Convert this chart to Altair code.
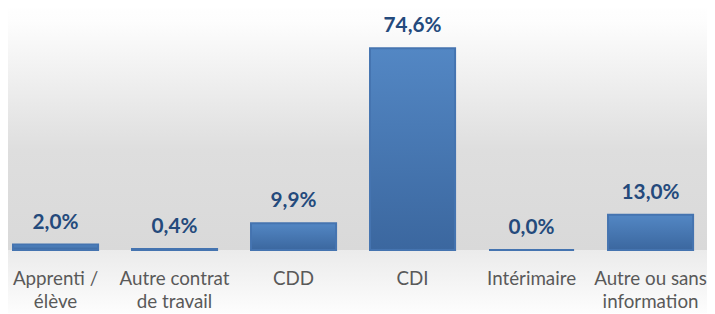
import altair as alt
import pandas as pd

categories = ["Apprenti / élève", "Autre contrat de travail", "CDD", "CDI",
              "Intérimaire", "Autre ou sans information"]
values = [2.0, 0.4, 9.9, 74.6, 0.0, 13.0]
label_lines = [["Apprenti /", "élève"], ["Autre contrat", "de travail"], ["CDD"],
               ["CDI"], ["Intérimaire"], ["Autre ou sans", "information"]]

df = pd.DataFrame({"cat": categories, "val": values})

W, H = 698, 243

# label expression (multi-line labels)
expr = "datum.label"
for cat, lines in reversed(list(zip(categories, label_lines))):
    arr = "[" + ",".join("'" + l + "'" for l in lines) + "]"
    expr = f"datum.label == '{cat}' ? {arr} : ({expr})"

x_enc = alt.X("cat:N", sort=categories,
              scale=alt.Scale(paddingInner=0.285, paddingOuter=0.042),
              axis=alt.Axis(title=None, labelExpr=expr, labelAngle=0,
                            labelFont="Lato", labelFontSize=19,
                            labelColor="#595959", labelPadding=20,
                            labelLineHeight=23, ticks=False, domain=False,
                            labelBaseline="top", labelOverlap=False,
                            labelLimit=300, zindex=2))
y_enc = alt.Y("val:Q", scale=alt.Scale(domain=[0, 88.8]), axis=None)

bg_df = pd.DataFrame({"k": [0]})
bg_top = alt.Chart(bg_df).mark_rect(
    color=alt.Gradient(gradient="linear", x1=0, x2=0, y1=0, y2=1,
                       stops=[alt.GradientStop(offset=0, color="#ffffff"),
                              alt.GradientStop(offset=0.08, color="#fdfdfd"),
                              alt.GradientStop(offset=0.6, color="#dedede"),
                              alt.GradientStop(offset=1, color="#d9d9d9")])
).encode(x=alt.value(-8), x2=alt.value(W + 16), y=alt.value(-8), y2=alt.value(H))
bg_bot = alt.Chart(bg_df).mark_rect(
    color=alt.Gradient(gradient="linear", x1=0, x2=0, y1=0, y2=1,
                       stops=[alt.GradientStop(offset=0, color="#ebebeb"),
                              alt.GradientStop(offset=1, color="#fdfdfd")])
).encode(x=alt.value(-8), x2=alt.value(W + 16), y=alt.value(H), y2=alt.value(H + 64))

base = alt.Chart(df)
bars = base.mark_bar(
    color=alt.Gradient(gradient="linear", x1=0, x2=0, y1=0, y2=1,
                       stops=[alt.GradientStop(offset=0, color="#5387c4"),
                              alt.GradientStop(offset=1, color="#3b679f")]),
    stroke="#4574b0", strokeWidth=2
).encode(x=x_enc, y=y_enc)

texts = base.transform_calculate(
    lab="replace(format(datum.val, '.1f'), '.', ',') + '%'"
).mark_text(font="Lato", fontWeight="bold", fontSize=21, color="#244a7c",
            dy=-16, baseline="alphabetic").encode(x=x_enc, y=y_enc, text="lab:N")

chart = alt.layer(bg_top, bg_bot, bars, texts).properties(
    width=W, height=H,
    autosize=alt.AutoSizeParams(type="none"),
    padding={"left": 0, "top": 0, "right": 9, "bottom": 63},
    background="#ffffff"
).configure_view(stroke=None)

chart.save("out.html", embed_options={"renderer": "svg", "actions": False})
